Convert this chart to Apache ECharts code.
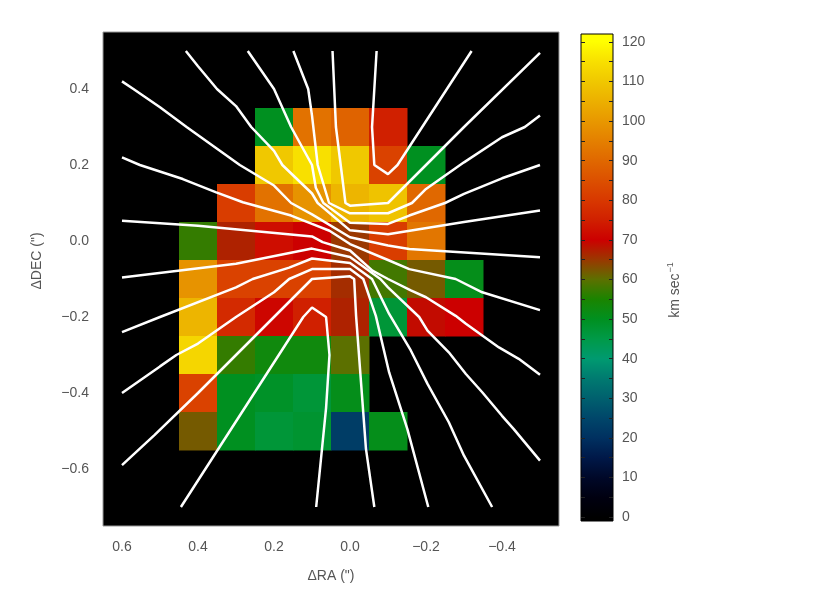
<!DOCTYPE html>
<html>
<head>
<meta charset="utf-8">
<script src="https://cdn.jsdelivr.net/npm/echarts@6/dist/echarts.min.js"></script>
<style>
  html, body { margin: 0; padding: 0; background: #fff; }
  #chart { width: 830px; height: 593px; }
</style>
</head>
<body>
<div id="chart"></div>
<script>
// cell centres (arcsec) and velocities (km/s), null = no data
const colsX = [0.4, 0.3, 0.2, 0.1, 0.0, -0.1, -0.2, -0.3];
const rowsY = [0.3, 0.2, 0.1, 0.0, -0.1, -0.2, -0.3, -0.4, -0.5];
const velocity = [
  [null, null, 50, 92, 89, 75, null, null],
  [null, null, 110, 115, 110, 82, 50, null],
  [null, 81, 92, 99, 106, 109, 90, null],
  [57, 67, 72, 70, 65, 81, 93, null],
  [99, 82, 82, 82, 66, 58, 62, 51],
  [106, 77, 71, 75, 67, 47, 69, 70],
  [113, 57, 53, 53, 60, null, null, null],
  [82, 50, 49, 47, 51, null, null, null],
  [62, 50, 47, 48, 23, 51, null, null],
];

// white contour lines, [dRA, dDEC]
const contourA = [[0.046, 0.5], [0.037, 0.3], [0.012, 0.1], [0, 0.093], [-0.1, 0.1], [-0.3, 0.3], [-0.5, 0.495]];
const contourB = [[0.149, 0.5], [0.11, 0.4], [0.1, 0.33], [0.085, 0.2], [0.055, 0.1], [0, 0.073], [-0.1, 0.073], [-0.163, 0.1], [-0.2, 0.137], [-0.3, 0.207], [-0.4, 0.273], [-0.46, 0.3], [-0.5, 0.33]];
const contourC = [[0.269, 0.5], [0.2, 0.4], [0.155, 0.3], [0.1, 0.2], [0.09, 0.14], [0.07, 0.1], [0, 0.048], [-0.1, 0.045], [-0.156, 0.067], [-0.25, 0.1], [-0.3, 0.124], [-0.4, 0.165], [-0.5, 0.2]];
const contourD = [[0.432, 0.5], [0.4, 0.46], [0.35, 0.4], [0.3, 0.355], [0.26, 0.3], [0.2, 0.237], [0.178, 0.2], [0.1, 0.125], [0.085, 0.1], [0, 0.028], [-0.1, 0.018], [-0.3, 0.05], [-0.5, 0.08]];
const contourE = [[0.6, 0.42], [0.57, 0.4], [0.5, 0.352], [0.43, 0.3], [0.36, 0.25], [0.29, 0.2], [0.2, 0.146], [0.155, 0.1], [0.1, 0.07], [0, 0.01], [-0.1, -0.012], [-0.156, -0.021], [-0.5, -0.043]];
const contourF = [[0.6, 0.22], [0.553, 0.2], [0.44, 0.163], [0.352, 0.128], [0.282, 0.102], [0.155, 0.067], [0.1, 0.045], [0.054, 0.027], [0, -0.008], [-0.1, -0.05], [-0.156, -0.074], [-0.278, -0.1], [-0.348, -0.135], [-0.5, -0.182]];
const contourG = [[0.6, 0.053], [0.4, 0.04], [0.1, 0.012], [0.072, -0.003], [0, -0.025], [-0.059, -0.078], [-0.1, -0.1], [-0.16, -0.13], [-0.2, -0.148], [-0.278, -0.197], [-0.305, -0.218], [-0.392, -0.28], [-0.444, -0.31], [-0.5, -0.352]];
const contourH = [[0.6, -0.096], [0.3, -0.06], [0.1, -0.02], [0, -0.042], [-0.08, -0.1], [-0.1, -0.122], [-0.182, -0.2], [-0.204, -0.236], [-0.26, -0.293], [-0.305, -0.35], [-0.348, -0.398], [-0.4, -0.46], [-0.431, -0.495], [-0.5, -0.578]];
const contourI = [[0.6, -0.24], [0.5, -0.2], [0.3, -0.122], [0.256, -0.1], [0.16, -0.07], [0.1, -0.046], [0, -0.058], [-0.058, -0.1], [-0.103, -0.192], [-0.16, -0.288], [-0.204, -0.376], [-0.26, -0.477], [-0.3, -0.565], [-0.374, -0.7]];
const contourJ = [[0.6, -0.4], [0.5, -0.33], [0.457, -0.3], [0.4, -0.27], [0.3, -0.2], [0.2, -0.135], [0.16, -0.1], [0.1, -0.074], [0, -0.074], [-0.035, -0.1], [-0.068, -0.197], [-0.103, -0.346], [-0.151, -0.495], [-0.206, -0.7]];
const contourK = [[0.6, -0.59], [0.514, -0.51], [0.4, -0.4], [0.3, -0.3], [0.2, -0.2], [0.1, -0.1], [0, -0.093], [-0.011, -0.1], [-0.016, -0.197], [-0.042, -0.547], [-0.064, -0.7]];
const contourTopV = [[-0.07, 0.5], [-0.058, 0.3], [-0.064, 0.2], [-0.1, 0.176], [-0.125, 0.2], [-0.32, 0.5]];
const contourBottomV = [[0.445, -0.7], [0.123, -0.2], [0.1, -0.175], [0.063, -0.2], [0.054, -0.3], [0.063, -0.44], [0.089, -0.7]];

const contours = [contourA, contourB, contourC, contourD, contourE, contourF, contourG,
  contourH, contourI, contourJ, contourK, contourTopV, contourBottomV];

// tick labels
const xTicks = [0.6, 0.4, 0.2, 0.0, -0.2, -0.4];
const yTicks = [0.4, 0.2, 0.0, -0.2, -0.4, -0.6];
const cbLabels = [0, 10, 20, 30, 40, 50, 60, 70, 80, 90, 100, 110, 120];
const cbTicks = [0, 5, 10, 15, 20, 25, 30, 35, 40, 45, 50, 55, 60, 65, 70, 75, 80, 85, 90, 95, 100, 105, 110, 115, 120];

// colour table, one colour every 5 km/s from 0 to 120
const palette = [
  '#000000', '#000010', '#000828', '#001848', '#003060', '#00466a', '#00606e',
  '#007a70', '#009a70', '#009a48', '#009020', '#1a8400', '#5c7000', '#9a3800',
  '#cc0000', '#d02000', '#d83800', '#dc5000', '#e06800', '#e48000', '#e89800',
  '#ecb000', '#f0c800', '#f8e000', '#ffff00'
];

const cellData = [];
rowsY.forEach((y, i) => {
  colsX.forEach((x, j) => {
    if (velocity[i][j] != null) cellData.push([x, y, velocity[i][j]]);
  });
});

const cbMin = -1, cbMax = 122;
const cbStops = [{ offset: 0, color: palette[0] }];
palette.forEach((c, i) => {
  cbStops.push({ offset: (i * 5 - cbMin) / (cbMax - cbMin), color: c });
});
cbStops.push({ offset: 1, color: palette[palette.length - 1] });

const half = 0.05;
const labelStyle = { color: '#555', fontSize: 14, fontFamily: 'Liberation Sans' };
const fmt = (v) => v.toFixed(1).replace('-', '\u2212');

const myChart = echarts.init(document.getElementById('chart'), null, { renderer: 'canvas' });

const series = [
  {
    type: 'custom',
    xAxisIndex: 0,
    yAxisIndex: 0,
    silent: true,
    clip: true,
    renderItem: function (params, api) {
      const p0 = api.coord([api.value(0) + half, api.value(1) + half]);
      const p1 = api.coord([api.value(0) - half, api.value(1) - half]);
      return {
        type: 'rect',
        shape: {
          x: Math.min(p0[0], p1[0]),
          y: Math.min(p0[1], p1[1]),
          width: Math.abs(p1[0] - p0[0]) + 0.5,
          height: Math.abs(p1[1] - p0[1]) + 0.5,
        },
        style: { fill: api.visual('color') },
      };
    },
    encode: { x: 0, y: 1 },
    data: cellData,
    z: 1,
  },
];
contours.forEach((c) => {
  series.push({
    type: 'line',
    xAxisIndex: 0,
    yAxisIndex: 0,
    data: c,
    symbol: 'none',
    silent: true,
    lineStyle: { color: '#fff', width: 2.5 },
    z: 5,
  });
});

const option = {
  animation: false,
  backgroundColor: '#fff',
  grid: [
    { left: 103, top: 32, width: 456, height: 494, show: true, backgroundColor: '#000', borderColor: '#999', borderWidth: 1 },
    {
      left: 581, top: 34, width: 32, height: 487, show: true, borderColor: '#000', borderWidth: 1,
      backgroundColor: { type: 'linear', x: 0, y: 1, x2: 0, y2: 0, colorStops: cbStops },
    },
  ],
  visualMap: {
    show: false,
    type: 'continuous',
    min: 0,
    max: 120,
    dimension: 2,
    seriesIndex: 0,
    inRange: { color: palette },
  },
  xAxis: [
    {
      gridIndex: 0,
      type: 'value',
      inverse: true,
      min: -0.55,
      max: 0.65,
      axisLine: { show: false },
      axisTick: { show: false },
      splitLine: { show: false },
      axisLabel: Object.assign({ customValues: xTicks, margin: 14, formatter: fmt }, labelStyle),
      name: 'ΔRA (")',
      nameLocation: 'middle',
      nameGap: 43,
      nameTextStyle: labelStyle,
    },
    { gridIndex: 1, type: 'value', min: 0, max: 1, show: false },
  ],
  yAxis: [
    {
      gridIndex: 0,
      type: 'value',
      min: -0.75,
      max: 0.55,
      axisLine: { show: false },
      axisTick: { show: false },
      splitLine: { show: false },
      axisLabel: Object.assign({ customValues: yTicks, margin: 14, formatter: fmt }, labelStyle),
    },
    {
      gridIndex: 1,
      type: 'value',
      position: 'left',
      min: cbMin,
      max: cbMax,
      axisLine: { show: false },
      splitLine: { show: false },
      axisTick: { inside: true, length: 4, customValues: cbTicks, lineStyle: { color: '#222' } },
      axisLabel: { show: false },
    },
    {
      gridIndex: 1,
      type: 'value',
      position: 'right',
      min: cbMin,
      max: cbMax,
      axisLine: { show: false },
      splitLine: { show: false },
      axisTick: { inside: true, length: 4, customValues: cbTicks, lineStyle: { color: '#222' } },
      axisLabel: Object.assign({ customValues: cbLabels, margin: 9 }, labelStyle),
    },
  ],
  graphic: [
    {
      type: 'text',
      x: 37,
      y: 261,
      rotation: Math.PI / 2,
      style: Object.assign({ text: 'ΔDEC (")', align: 'center', verticalAlign: 'middle' }, {
        fill: '#555', fontSize: 14, fontFamily: 'Liberation Sans',
      }),
    },
    {
      type: 'text',
      x: 675,
      y: 290,
      rotation: Math.PI / 2,
      style: {
        text: 'km sec{sup|\u22121}',
        align: 'center',
        verticalAlign: 'middle',
        fill: '#555',
        fontSize: 14,
        fontFamily: 'Liberation Sans',
        rich: { sup: { fontSize: 9, fill: '#555', verticalAlign: 'top', padding: [0, 0, 8, 1] } },
      },
    },
  ],
  series: series,
};

myChart.setOption(option);
</script>
</body>
</html>
